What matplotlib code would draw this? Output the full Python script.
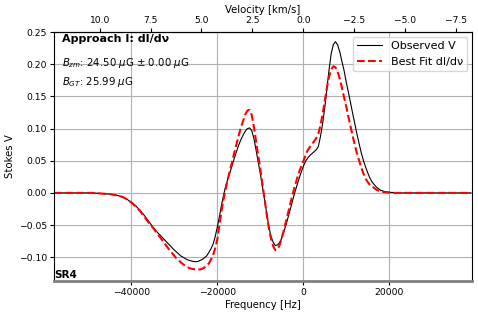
import numpy as np
import matplotlib
matplotlib.use("Agg")
import matplotlib.pyplot as plt

# Frequency offsets (Hz): coarse in the flat wings, 500 Hz across the lines
freq = np.concatenate([
    np.arange(-58000, -30000, 1000),
    np.arange(-30000, 16000, 500),
    np.arange(16000, 39001, 1000),
])

# Observed Stokes V
obs_v = [
    # wing, -58k .. -31k
    0, 0, 0, 0, 0, 0, 0, 0, 0, 0,
    -0.0005, -0.001, -0.0015, -0.002, -0.003, -0.0045, -0.0065, -0.010, -0.015,
    -0.020, -0.027, -0.035, -0.044, -0.053, -0.061, -0.068, -0.075, -0.082,
    # -30k .. 15.5k in 500 Hz steps
    -0.089, -0.092, -0.095, -0.098, -0.100, -0.102, -0.104, -0.105, -0.106, -0.1068,
    -0.107, -0.1065, -0.105, -0.1035, -0.101, -0.098, -0.093, -0.087, -0.080, -0.068,
    -0.053, -0.036, -0.018, -0.002, 0.012, 0.023, 0.033, 0.044, 0.055, 0.065,
    0.075, 0.083, 0.090, 0.096, 0.100, 0.101, 0.097, 0.085, 0.067, 0.048,
    0.030, 0.009, -0.012, -0.034, -0.053, -0.068, -0.077, -0.082, -0.081, -0.077,
    -0.070, -0.060, -0.049, -0.037, -0.025, -0.012, 0.000, 0.011, 0.022, 0.032,
    0.041, 0.049, 0.054, 0.058, 0.061, 0.064, 0.067, 0.072, 0.088, 0.108,
    0.133, 0.163, 0.192, 0.217, 0.231, 0.235, 0.230, 0.219, 0.204, 0.190,
    0.172, 0.156, 0.140, 0.123, 0.107, 0.091, 0.076, 0.062, 0.050, 0.040,
    0.031, 0.023,
    # wing, 16k .. 39k
    0.017, 0.009, 0.004, 0.002, 0.001, 0.0005,
    0, 0, 0, 0, 0, 0, 0, 0, 0, 0, 0, 0, 0, 0, 0, 0, 0, 0,
]

# Best fit dI/dnu model
fit_v = [
    0, 0, 0, 0, 0, 0, 0, 0, 0, 0,
    -0.0005, -0.001, -0.0015, -0.002, -0.003, -0.0045, -0.0065, -0.010, -0.015,
    -0.021, -0.028, -0.037, -0.046, -0.054, -0.063, -0.072, -0.081, -0.090,
    -0.098, -0.102, -0.105, -0.108, -0.111, -0.113, -0.115, -0.117, -0.118, -0.1185,
    -0.119, -0.1192, -0.119, -0.118, -0.116, -0.113, -0.110, -0.104, -0.097, -0.086,
    -0.072, -0.050, -0.027, -0.008, 0.008, 0.023, 0.037, 0.050, 0.064, 0.077,
    0.090, 0.102, 0.112, 0.122, 0.128, 0.129, 0.121, 0.103, 0.080, 0.058,
    0.037, 0.013, -0.010, -0.034, -0.055, -0.072, -0.083, -0.089, -0.088, -0.081,
    -0.070, -0.057, -0.044, -0.030, -0.016, -0.003, 0.010, 0.021, 0.032, 0.041,
    0.049, 0.058, 0.066, 0.071, 0.076, 0.080, 0.085, 0.092, 0.105, 0.123,
    0.143, 0.164, 0.181, 0.192, 0.197, 0.195, 0.188, 0.177, 0.163, 0.148,
    0.134, 0.118, 0.103, 0.088, 0.074, 0.061, 0.050, 0.039, 0.030, 0.022,
    0.017, 0.012,
    0.010, 0.005, 0.002, 0.001, 0.0005,
    0, 0, 0, 0, 0, 0, 0, 0, 0, 0, 0, 0, 0, 0, 0, 0, 0, 0, 0,
]

# velocity ticks shown on the top axis (km/s)
vel_ticks = [10.0, 7.5, 5.0, 2.5, 0.0, -2.5, -5.0, -7.5]

# HI rest frequency and speed of light for the velocity axis
f0 = 1420405751.768  # Hz
c_kms = 299792.458


def freq_to_vel(f):
    return -np.asarray(f) * c_kms / f0


def vel_to_freq(v):
    return -np.asarray(v) * f0 / c_kms


fig = plt.figure(figsize=(4.78, 3.15), dpi=100)
ax = fig.add_axes([0.113, 0.108, 0.874, 0.79])

ax.plot(freq, obs_v, color='black', lw=0.8, label='Observed V')
ax.plot(freq, fit_v, color='red', lw=1.5, ls='--', label='Best Fit dI/dν')

ax.set_xlim(-58000, 39200)
ax.set_ylim(-0.137, 0.25)
ax.set_xlabel('Frequency [Hz]', fontsize=7.3, labelpad=2)
ax.set_ylabel('Stokes V', fontsize=7.3, labelpad=3)
ax.tick_params(labelsize=6.7, length=3, pad=2)
ax.grid(True, color='#b0b0b0', lw=0.8)
ax.spines['bottom'].set_color('grey')
ax.spines['bottom'].set_linewidth(2)

secax = ax.secondary_xaxis('top', functions=(freq_to_vel, vel_to_freq))
secax.set_xticks(vel_ticks)
secax.set_xlabel('Velocity [km/s]', fontsize=7.3, labelpad=2)
secax.tick_params(labelsize=6.6, length=3, pad=2)

ax.legend(loc='upper right', fontsize=8.0, handlelength=2.2,
          borderaxespad=0.4, framealpha=0.8)

ax.text(0.019, 0.972, 'Approach I: dI/dν', transform=ax.transAxes,
        fontsize=8.0, fontweight='bold', va='center', ha='left')
ax.text(0.019, 0.877, r'$B_{zm}$: 24.50 $\mu$G ± 0.00 $\mu$G',
        transform=ax.transAxes, fontsize=7.3, va='center', ha='left')
ax.text(0.019, 0.80, r'$B_{GT}$: 25.99 $\mu$G',
        transform=ax.transAxes, fontsize=7.3, va='center', ha='left')
ax.text(0.0, 0.005, 'SR4', transform=ax.transAxes,
        fontsize=7.5, fontweight='bold', va='bottom', ha='left')

fig.savefig('out.png', dpi=100)
